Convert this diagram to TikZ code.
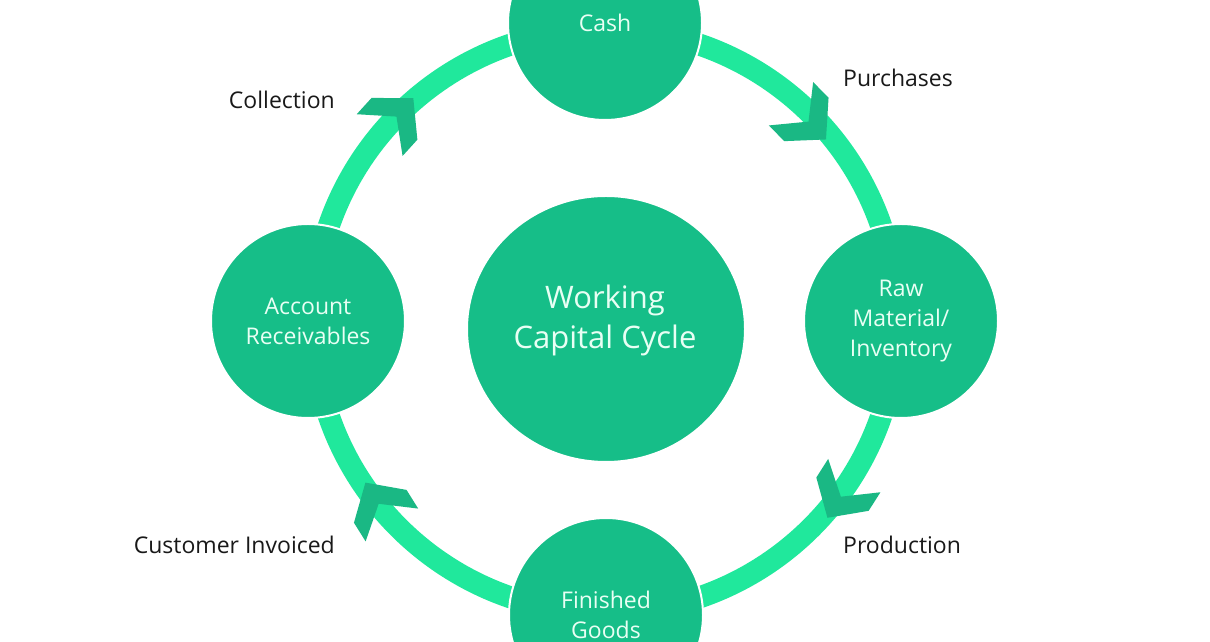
\documentclass[tikz,border=0pt]{standalone}
\usepackage{fontspec}
\setmainfont{Open Sans}
\usetikzlibrary{shapes.geometric}
\definecolor{ringgreen}{RGB}{32,232,156}
\definecolor{discgreen}{RGB}{22,190,136}
\definecolor{chevgreen}{RGB}{26,184,132}
\definecolor{disctext}{RGB}{232,255,244}
\definecolor{labeltext}{RGB}{25,25,25}
\tikzset{
  ringline/.style={draw=ringgreen,line width=22pt},
  chevron/.style={fill=chevgreen,draw=none},
  disc/.style={circle,fill=discgreen,draw=white,line width=2pt,inner sep=0pt,minimum size=194pt,
    text=disctext,font=\fontsize{23}{30}\selectfont,align=center},
  bigdisc/.style={ellipse,fill=discgreen,draw=white,line width=2pt,inner sep=0pt,
    minimum width=278pt,minimum height=266pt},
  bigtext/.style={text=disctext,font=\fontsize{31}{40}\selectfont,align=center,inner sep=0pt},
  lbl/.style={text=labeltext,font=\fontsize{23}{26}\selectfont,inner sep=0pt}
}
% #1 = angle of the tip on the ring, #2 = radius of the tip, #3 = extra turn
\newcommand\chevat[3]{%
  \begin{scope}[shift={(O)},rotate=#1]
    \begin{scope}[rotate around={#3:(#2,0)}]
    \fill[chevron] (#2,0) -- ++(31,28) -- ++(0,22) -- ++(-31,-25) -- ++(-31,25) -- ++(0,-22) -- cycle;
    \end{scope}
  \end{scope}}
\begin{document}
\begin{tikzpicture}[x=1pt,y=1pt]
\useasboundingbox[fill=white] (0,0) rectangle (1210,642);
\coordinate (O) at (605,321);
\draw[ringline] (O) circle[radius=292];
\chevat{39.4}{286}{5}
\chevat{-41.5}{297}{9}
\chevat{214}{289}{-2}
\chevat{130.7}{294}{7}
\node[bigdisc] (wcc) at (606,313) {};
\node[bigtext] (wcct) at (605,322) {Working\\Capital Cycle};
\node[disc] (cash) at (605,619) {Cash};
\node[disc] (raw) at (901,321) {Raw\\Material/\\Inventory};
\node[disc] (ar) at (308,321) {Account\\Receivables};
\node[disc] (fg) at (606,27) {Finished\\Goods};
\node[lbl,anchor=west] (pur) at (843,564) {Purchases};
\node[lbl,anchor=east] (col) at (335,542) {Collection};
\node[lbl,anchor=west] (prod) at (843,97) {Production};
\node[lbl,anchor=east] (ci) at (335,97) {Customer Invoiced};
\end{tikzpicture}
\end{document}
